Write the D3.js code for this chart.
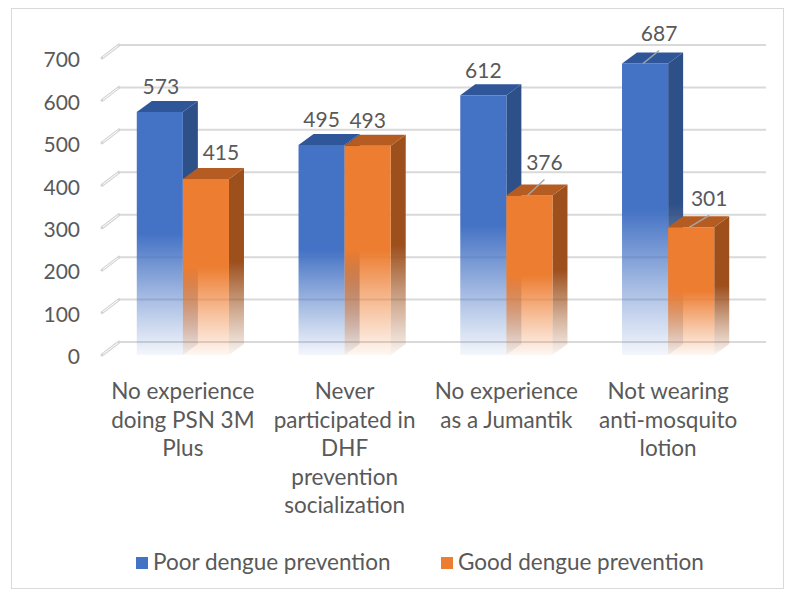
<!DOCTYPE html>
<html>
<head>
<meta charset="utf-8">
<script src="https://cdn.jsdelivr.net/npm/d3@7"></script>
<style>
  html, body { margin: 0; padding: 0; background: #fff; }
  svg { display: block; }
  text { font-family: Lato, "Open Sans", sans-serif; fill: #595959; }
</style>
</head>
<body>
<svg id="chart" width="799" height="595"></svg>
<script>
// ---- data ----
const categories = [
  "No experience doing PSN 3M Plus",
  "Never participated in DHF prevention socialization",
  "No experience as a Jumantik",
  "Not wearing anti-mosquito lotion"
];
const categoryLines = [
  ["No experience", "doing PSN 3M", "Plus"],
  ["Never", "participated in", "DHF", "prevention", "socialization"],
  ["No experience", "as a Jumantik"],
  ["Not wearing", "anti-mosquito", "lotion"]
];
const seriesNames = ["Poor dengue prevention", "Good dengue prevention"];
const poorValues = [573, 495, 612, 687];
const goodValues = [415, 493, 376, 301];
const yTicks = [0, 100, 200, 300, 400, 500, 600, 700];

// ---- layout / style ----
const W = 799, H = 595;
const wallDx = 17, wallDy = 13;   // back wall offset
const barDx = 15, barDy = 11;     // bar depth
const colors = {
  "Poor dengue prevention": { front: "#4472C4", side: "#2E5088", top: "#30569A" },
  "Good dengue prevention": { front: "#ED7D31", side: "#9D4F1C", top: "#B55C22" }
};
// extra label nudges (px) for moved labels, and whether a leader line is drawn
const labelNudge = {
  "Poor dengue prevention": [[1, 0, false], [0, 0, false], [0, 0, false], [14, -5, true]],
  "Good dengue prevention": [[15, -1, false], [0, 0, false], [15, -8, true], [18, -4, true]]
};

const svg = d3.select("#chart");
const defs = svg.append("defs");

// chart border
svg.append("rect")
  .attr("x", 11.5).attr("y", 8.5).attr("width", 772).attr("height", 580)
  .attr("fill", "#fff").attr("stroke", "#d9d9d9").attr("stroke-width", 1);

const y = d3.scaleLinear().domain([0, 700]).range([355, 58]);
const x = d3.scaleBand().domain(categories).range([102, 749])
  .paddingInner(0.43).paddingOuter(0.215);
const xs = d3.scaleBand().domain(seriesNames).range([0, x.bandwidth()]);

// gradients
Object.entries(colors).forEach(([name, c], i) => {
  ["front", "side", "top"].forEach(face => {
    const g = defs.append("linearGradient")
      .attr("id", `g${i}${face}`)
      .attr("x1", 0).attr("y1", 0).attr("x2", 0).attr("y2", 1);
    g.append("stop").attr("offset", "0%").attr("stop-color", c[face]).attr("stop-opacity", 1);
    g.append("stop").attr("offset", "50%").attr("stop-color", c[face]).attr("stop-opacity", 1);
    g.append("stop").attr("offset", "78%").attr("stop-color", c[face]).attr("stop-opacity", 0.45);
    g.append("stop").attr("offset", "100%").attr("stop-color", c[face]).attr("stop-opacity", 0.06);
  });
});

// gridlines (back wall) and floor diagonals
const grid = svg.append("g");
const [x0, x1] = x.range();
yTicks.forEach(t => {
  grid.append("line")
    .attr("x1", x0 + wallDx).attr("x2", x1 + wallDx)
    .attr("y1", y(t) - wallDy).attr("y2", y(t) - wallDy)
    .attr("stroke", "#d9d9d9").attr("stroke-width", 2);
  grid.append("line")
    .attr("x1", x0).attr("y1", y(t))
    .attr("x2", x0 + wallDx).attr("y2", y(t) - wallDy)
    .attr("stroke", "#d4d4d4").attr("stroke-width", 3).attr("stroke-linecap", "round");
  grid.append("line")
    .attr("x1", x0 + 1).attr("y1", y(t) - 0.8)
    .attr("x2", x0 + wallDx - 1).attr("y2", y(t) - wallDy + 0.8)
    .attr("stroke", "#ffffff").attr("stroke-width", 1);
});

// y axis labels
const yAxis = d3.axisLeft(y).tickValues(yTicks).tickSize(0).tickPadding(0);
const ya = svg.append("g").attr("transform", "translate(80,2)").call(yAxis);
ya.select(".domain").remove();
ya.selectAll("text").attr("font-size", 21).attr("fill", "#595959")
  .style("font-family", "Lato, 'Open Sans', sans-serif");

// bars
const seriesValues = [poorValues, goodValues];
const bars = svg.append("g");
categories.forEach((cat, ci) => {
  seriesNames.forEach((s, si) => {
    const v = seriesValues[si][ci];
    const bx0 = x(cat) + xs(s), bx1 = bx0 + xs.bandwidth();
    const top = y(v), bot = y(0);
    const g = bars.append("g");
    // side face
    g.append("path")
      .attr("d", `M${bx1},${top}L${bx1 + barDx},${top - barDy}L${bx1 + barDx},${bot - barDy}L${bx1},${bot}Z`)
      .attr("fill", `url(#g${si}side)`);
    // front face
    g.append("rect")
      .attr("x", bx0).attr("y", top).attr("width", bx1 - bx0).attr("height", bot - top)
      .attr("fill", `url(#g${si}front)`);
    // top face
    g.append("path")
      .attr("d", `M${bx0},${top}L${bx0 + barDx},${top - barDy}L${bx1 + barDx},${top - barDy}L${bx1},${top}Z`)
      .attr("fill", colors[s].top);
  });
});

// data labels
const labels = svg.append("g");
categories.forEach((cat, ci) => {
  seriesNames.forEach((s, si) => {
    const v = seriesValues[si][ci];
    const cx = x(cat) + xs(s) + xs.bandwidth() / 2;
    const [ndx, ndy, leader] = labelNudge[s][ci];
    const lx = cx + ndx, ly = y(v) - 26 + ndy;
    if (leader) {
      labels.append("line")
        .attr("x1", cx - 2).attr("y1", y(v))
        .attr("x2", lx).attr("y2", ly + 18)
        .attr("stroke", "#a6a6a6").attr("stroke-width", 1.5);
    }
    labels.append("text")
      .attr("x", lx).attr("y", ly)
      .attr("text-anchor", "middle").attr("dominant-baseline", "central")
      .attr("font-size", 21)
      .text(v);
  });
});

// category labels
const catG = svg.append("g");
categories.forEach((cat, ci) => {
  const cx = x(cat) + x.bandwidth() / 2;
  const t = catG.append("text").attr("text-anchor", "middle").attr("font-size", 22.5);
  categoryLines[ci].forEach((line, li) => {
    t.append("tspan").attr("x", cx).attr("y", 399 + li * 28.5).text(line);
  });
});

// legend
const legendPos = [136, 441];
const leg = svg.append("g");
seriesNames.forEach((s, i) => {
  leg.append("rect").attr("x", legendPos[i]).attr("y", 557)
    .attr("width", 12).attr("height", 12).attr("fill", colors[s].front);
  leg.append("text").attr("x", legendPos[i] + 17).attr("y", 570)
    .attr("font-size", 22.5).text(s);
});
</script>
</body>
</html>
